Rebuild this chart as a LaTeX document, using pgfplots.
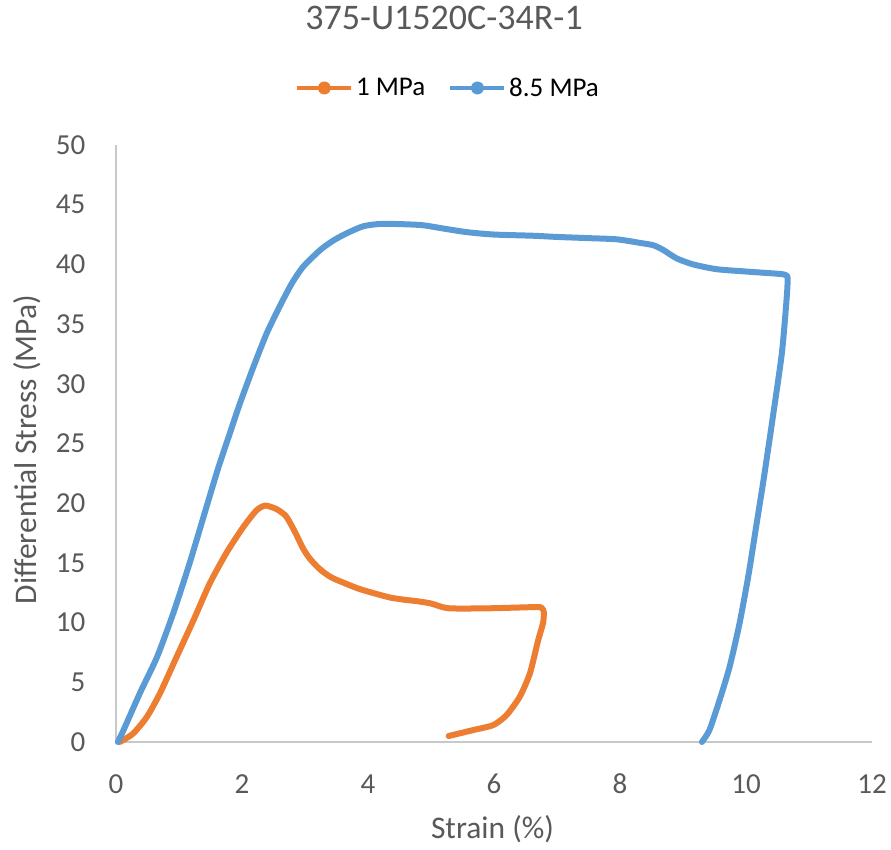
\documentclass[border=0pt]{standalone}
\usepackage{fontspec}
\setmainfont{Carlito}
\usepackage{pgfplots}
\pgfplotsset{compat=1.18}
\definecolor{tcol}{HTML}{595959}
\definecolor{axcol}{HTML}{C8C8C8}
\definecolor{orangeS}{HTML}{ED7D31}
\definecolor{blueS}{HTML}{5B9BD5}
\begin{document}
\begin{tikzpicture}
\begin{axis}[
  at={(0pt,0pt)}, anchor=south west,
  scale only axis, width=756pt, height=597pt,
  xmin=0, xmax=12, ymin=0, ymax=50,
  xtick={0,2,4,6,8,10,12}, ytick={0,5,10,15,20,25,30,35,40,45,50},
  axis lines*=left,
  axis line style={draw=axcol, line width=1.3pt},
  major tick length=0pt,
  clip=false,
  /pgf/number format/assume math mode=true,
  xticklabel style={font=\fontsize{29}{34}\selectfont, text=tcol, anchor=base, yshift=-52pt},
  yticklabel style={font=\fontsize{29}{34}\selectfont, text=tcol, anchor=east, inner sep=0pt, xshift=-30.5pt},
  xlabel={Strain (\%)},
  ylabel={Differential Stress (MPa)},
  xlabel style={font=\fontsize{31.5}{36}\selectfont, text=tcol, at={(axis description cs:0.498,0)}, anchor=base, yshift=-97pt},
  ylabel style={font=\fontsize{31.5}{36}\selectfont, text=tcol, at={(axis description cs:-0.1045,0.49)}, anchor=base},
  title={375-U1520C-34R-1},
  title style={font=\fontsize{36}{42}\selectfont, text=tcol, at={(axis description cs:0.4339,1)}, anchor=base, yshift=109pt},
  legend columns=2,
  legend style={at={(axis description cs:0.4378,1.0955)}, anchor=center, draw=none, fill=none,
    font=\fontsize{27}{32}\selectfont, text=black, inner sep=0pt, outer sep=0pt,
    nodes={inner sep=0pt},
    /tikz/every odd column/.append style={column sep=2.5pt},
    /tikz/every even column/.append style={column sep=23pt}},
  legend image code/.code={%
    \draw[#1, line width=4.5pt, line cap=butt] (0pt,0pt) -- (54pt,0pt);
    \fill[#1] (27pt,0pt) circle (3.6pt);},
]
\addplot[color=orangeS, line width=6pt, line join=round, line cap=round, smooth, tension=0.4] coordinates {
(0.06,0) (0.27,0.7) (0.49,2.1) (0.70,4.1) (0.96,7.1) (1.23,10.2) (1.49,13.3)
(1.76,15.9) (2.02,18.0) (2.23,19.4) (2.37,19.8) (2.55,19.5) (2.70,18.9)
(2.84,17.6) (2.97,16.2) (3.07,15.4) (3.19,14.7) (3.30,14.2) (3.45,13.7)
(3.82,12.9) (4.00,12.6) (4.35,12.1) (4.60,11.9) (4.77,11.8) (5.00,11.6)
(5.28,11.2) (5.94,11.2) (6.68,11.3) (6.76,11.2) (6.79,10.9) (6.78,10.0)
(6.70,8.5) (6.57,5.75)
(6.41,3.8) (6.20,2.26) (5.99,1.42) (5.67,1.0) (5.28,0.5)
};
\addlegendentry{1 MPa}
\addplot[color=blueS, line width=6pt, line join=round, line cap=round, smooth, tension=0.4] coordinates {
(0.03,0) (0.12,1.0) (0.38,4.1) (0.65,7.1) (0.91,10.8) (1.17,15.0) (1.42,19.4)
(1.62,22.9) (1.81,25.9) (1.97,28.4) (2.18,31.4) (2.39,34.2) (2.60,36.5)
(2.79,38.4) (2.97,39.8) (3.24,41.2) (3.45,42.0) (3.66,42.6) (3.93,43.2)
(4.24,43.4) (4.83,43.3) (5.20,43.0) (5.57,42.7) (6.00,42.5) (6.62,42.4)
(7.00,42.3) (7.50,42.2) (7.95,42.1) (8.32,41.8) (8.53,41.6) (8.69,41.2)
(8.90,40.5) (9.16,40.0) (9.53,39.6) (10.01,39.4) (10.54,39.2) (10.63,39.1)
(10.66,38.9) (10.65,37.5) (10.57,32.6) (10.42,27.0) (10.28,22.0) (10.16,18.0)
(10.04,14.0) (9.90,10.0)
(9.74,6.3) (9.58,3.5) (9.42,1.0) (9.30,0)
};
\addlegendentry{8.5 MPa}
\end{axis}
\pgfresetboundingbox
\path (-116pt,-108pt) rectangle (775pt,742pt);
\end{tikzpicture}
\end{document}
